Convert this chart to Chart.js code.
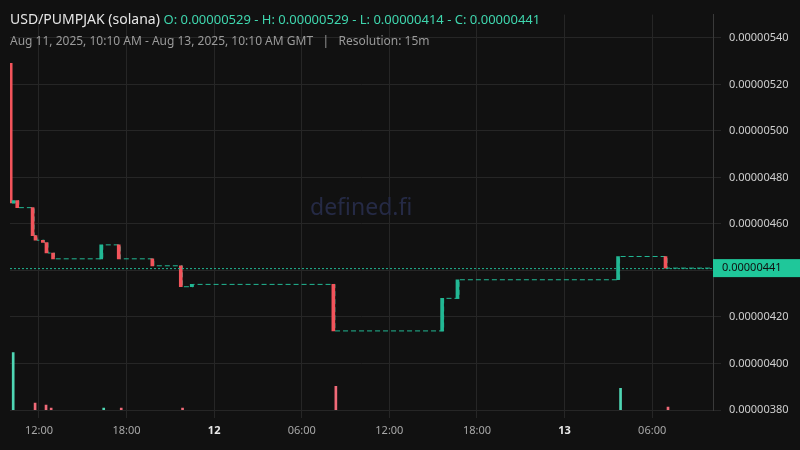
<!DOCTYPE html>
<html>
<head>
<meta charset="utf-8">
<script src="https://cdn.jsdelivr.net/npm/chart.js@4.4.0/dist/chart.umd.min.js"></script>
<style>
  body { margin:0; background:#111111; font-family:"Noto Sans", sans-serif; }
  #wrap { position:relative; width:800px; height:450px; }
  #title { position:absolute; left:10px; top:9px; font-size:14px; color:#e6e6e6; white-space:nowrap; }
  #title .ohlc { color:#3fd6ae; font-size:13px; }
  #sub { position:absolute; left:10px; top:32px; font-size:12px; color:#9a9a9a; white-space:nowrap; }
  #mark { position:absolute; left:310px; top:190px; font-size:23px; color:#252a45; }
</style>
</head>
<body>
<div id="wrap">
  <canvas id="c" width="800" height="450"></canvas>
  <div id="mark">defined.fi</div>
  <div id="title">USD/PUMPJAK (solana) <span class="ohlc">O: 0.00000529 - H: 0.00000529 - L: 0.00000414 - C: 0.00000441</span></div>
  <div id="sub">Aug 11, 2025, 10:10 AM - Aug 13, 2025, 10:10 AM GMT &nbsp; | &nbsp; Resolution: 15m</div>
</div>
<script>
// hours since Aug 11 10:10 GMT, prices in units of 1e-8
const candleHours = [0, 0.2, 0.45, 1.5, 1.7, 2.2, 2.45, 2.9, 6.2, 7.4, 9.7, 11.65, 12.4, 22.1, 29.55, 30.6, 41.6, 44.85];
const candleOpen  = [529, 469, 470, 467, 455, 453, 452, 447.5, 445, 451, 445, 442, 433, 434, 414, 428, 436, 446];
const candleClose = [469, 470, 467, 455, 453, 452, 447.5, 445, 451, 445, 442, 433, 434, 414, 428, 436, 446, 441];
const endHour = 48;
const lastPrice = 441;

const volHours = [0, 1.5, 2.25, 2.6, 6.2, 7.4, 11.6, 22.1, 41.6, 44.85];
const volValues = [58, 7, 5, 2, 2, 2, 2, 24, 22, 3];
const volUp = [true, false, false, false, true, false, false, false, true, false];

const tickHours = [1.833, 7.833, 13.833, 19.833, 25.833, 31.833, 37.833, 43.833];
const tickLabels = ['12:00', '18:00', '12', '06:00', '12:00', '18:00', '13', '06:00'];
const dayLabels = ['12', '13'];

const RED = '#f2545b', TEAL = '#22b894';

const candles = candleHours.map((h, i) => ({ x: h, y: [candleOpen[i], candleClose[i]] }));
const candleColors = candleHours.map((h, i) => candleClose[i] >= candleOpen[i] ? TEAL : RED);
const flat = candleHours.map((h, i) => ({ x: h, y: candleClose[i] }));
flat.push({ x: endHour, y: lastPrice });
const vols = volHours.map((h, i) => ({ x: h, y: volValues[i] }));

const lastPricePlugin = {
  id: 'lastPrice',
  afterDraw(chart) {
    const ctx = chart.ctx, y = chart.scales.y.getPixelForValue(lastPrice), a = chart.chartArea;
    ctx.save();
    ctx.strokeStyle = TEAL; ctx.setLineDash([2, 2]); ctx.lineWidth = 1;
    ctx.beginPath(); ctx.moveTo(a.left, y + 0.5); ctx.lineTo(a.right, y + 0.5); ctx.stroke();
    ctx.fillStyle = '#1fc79a';
    ctx.fillRect(a.right, y - 9, 800 - a.right, 18);
    ctx.fillStyle = '#101010'; ctx.font = '11px "Noto Sans"'; ctx.textBaseline = 'middle';
    ctx.fillText((lastPrice / 1e8).toFixed(8), a.right + 9, y);
    ctx.restore();
  }
};

new Chart(document.getElementById('c'), {
  data: {
    datasets: [
      { type: 'bar', data: vols, yAxisID: 'v', barThickness: 2,
        backgroundColor: volUp.map(u => u ? '#4fd6b4' : '#f06a78'), order: 3 },
      { type: 'line', data: flat, yAxisID: 'y', stepped: 'before', borderColor: TEAL,
        borderWidth: 1, borderDash: [5, 3], pointRadius: 0, order: 2 },
      { type: 'bar', data: candles, yAxisID: 'y', barThickness: 3, minBarLength: 1,
        backgroundColor: candleColors, order: 1 }
    ]
  },
  options: {
    responsive: false,
    animation: false,
    layout: { padding: { left: 10 } },
    plugins: { legend: { display: false }, tooltip: { enabled: false } },
    scales: {
      x: {
        type: 'linear', min: -0.15, max: endHour, offset: false,
        grid: { color: '#262626', offset: false }, border: { color: '#262626' },
        afterBuildTicks: s => { s.ticks = tickHours.map(v => ({ value: v })); },
        afterFit: s => { s.height = 40; },
        ticks: {
          autoSkip: false, maxRotation: 0, padding: 6,
          callback: (v, i) => tickLabels[i],
          color: c => dayLabels.includes(tickLabels[c.index]) ? '#e8e8e8' : '#a8a8a8',
          font: c => ({ family: 'Noto Sans', size: 11, weight: dayLabels.includes(tickLabels[c.index]) ? 'bold' : 'normal' })
        }
      },
      y: {
        position: 'right', min: 380, max: 550,
        grid: { color: '#262626' }, border: { color: '#3a3a3a' },
        afterBuildTicks: s => { s.ticks = s.ticks.filter(t => t.value % 20 === 0); },
        afterFit: s => { s.width = 87; },
        ticks: { stepSize: 20, color: '#cfcfcf', padding: 8,
          font: { family: 'Noto Sans', size: 11 },
          callback: v => (v / 1e8).toFixed(8) }
      },
      v: { display: false, min: 0, max: 400 }
    }
  },
  plugins: [lastPricePlugin]
});
</script>
</body>
</html>
